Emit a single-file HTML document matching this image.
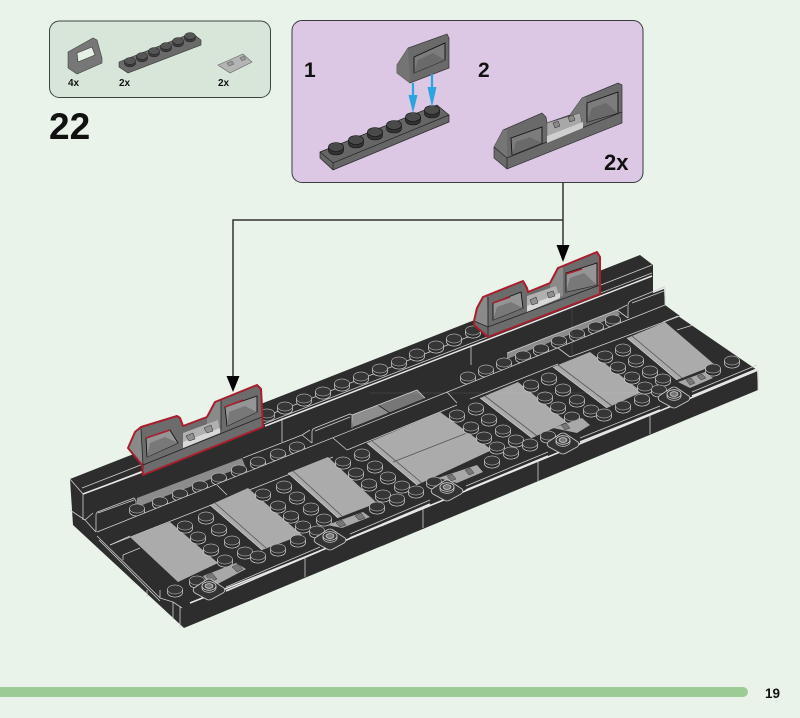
<!DOCTYPE html>
<html>
<head>
<meta charset="utf-8">
<title>Step 22</title>
<style>
html,body{margin:0;padding:0;background:#e9f3ea;}
svg{display:block;filter:blur(.35px);}
text{font-family:"Liberation Sans",sans-serif;font-weight:bold;fill:#111;}
.l{fill:none;stroke:#cfcfcf;stroke-width:.8;}
.w{fill:none;stroke:#e8e8e8;stroke-width:1.5;}
.k{fill:none;stroke:#222;stroke-width:.8;}
.p{fill:#ababab;}
.r{fill:none;stroke:#a81e2c;stroke-width:2;stroke-linejoin:round;}
</style>
</head>
<body>
<svg width="800" height="718" viewBox="0 0 800 718" xmlns="http://www.w3.org/2000/svg">
<defs>
<g id="s"><path d="M-7.500-1.500v3a7.500 4.600 0 0 0 15 0v-3z" fill="#2a2a2a" stroke="#c8c8c8" stroke-width=".8"/><ellipse cy="-1.500" rx="7.500" ry="4.600" fill="#363636" stroke="#bdbdbd" stroke-width=".6"/></g>
<g id="a"><path d="M-5.500-1v2.500a5.500 3.400 0 0 0 11 0v-2.500z" fill="#3a3a3a" stroke="#222" stroke-width=".5"/><ellipse cy="-1" rx="5.500" ry="3.400" fill="#555" stroke="#222" stroke-width=".5"/></g>
<g id="b"><path d="M-7.500-2v3.500a7.500 4.500 0 0 0 15 0v-3.500z" fill="#333" stroke="#111" stroke-width=".6"/><ellipse cy="-2" rx="7.500" ry="4.500" fill="#4a4a4a" stroke="#111" stroke-width=".6"/></g>
<g id="j">
<path d="M-15,1 L-3,-7 Q0,-9 3,-7 L15,1 Q17,4 14,6 L3,12 Q0,14 -3,12 L-14,6 Q-17,4 -15,1z" fill="#333" stroke="#cfcfcf" stroke-width=".8"/>
<path d="M-7,-1v2a7 4.300 0 0 0 14 0v-2z" fill="#2a2a2a" stroke="#c8c8c8" stroke-width=".8"/>
<ellipse cy="-1" rx="7" ry="4.300" fill="#3a3a3a" stroke="#ddd" stroke-width=".8"/>
<ellipse cy="-1" rx="4" ry="2.400" fill="#777" stroke="#ddd" stroke-width=".7"/>
</g>
</defs>

<rect width="800" height="718" fill="#e9f3ea"/>

<!-- parts panel -->
<rect x="49.500" y="21" width="221" height="76.500" rx="10" fill="#d8e6da" stroke="#3a463d" stroke-width="1"/>
<path d="M68,52 L93,38 L97,40 L102,58 L102,63 L77,74 L68,68z" fill="#777" stroke="#444" stroke-width=".6"/>
<path d="M77,53 L92,47 L95,55 L78,62z" fill="#e6efe6" stroke="#333" stroke-width=".6"/>
<path d="M119,62 L192,33 L201,40 L201,45 L128,73 L119,67z" fill="#6a6a6a" stroke="#333" stroke-width=".6"/>
<use href="#a" x="130" y="62"/><use href="#a" x="142" y="57"/><use href="#a" x="154" y="52"/><use href="#a" x="166" y="47"/><use href="#a" x="178" y="42"/><use href="#a" x="190" y="37"/>
<path d="M218,65 L243,54 L252,62 L230,73z" fill="#b4b4b4" stroke="#666" stroke-width=".6"/>
<path d="M227,63 L232,61 L234,64 L229,66z M240,58 L244,56 L246,59 L242,61z" fill="#999" stroke="#444" stroke-width=".4"/>
<text x="68" y="86" font-size="10">4x</text>
<text x="119" y="86" font-size="10">2x</text>
<text x="218" y="86" font-size="10">2x</text>
<text x="49" y="139" font-size="37">22</text>

<!-- purple panel -->
<rect x="292" y="20.500" width="351" height="162" rx="10" fill="#dcc8e4" stroke="#3a3a40" stroke-width="1"/>
<text x="304" y="77" font-size="21">1</text>
<text x="478" y="77" font-size="21">2</text>
<text x="604" y="170" font-size="22">2x</text>

<path d="M320,152 L437,105 L449,115 L449,122 L333,170 L320,158z" fill="#666" stroke="#222" stroke-width=".7"/>
<path d="M320,152 L333,163 L449,115 M333,163 V170" fill="none" stroke="#222" stroke-width=".7"/>
<use href="#b" x="336" y="149"/><use href="#b" x="356" y="142"/><use href="#b" x="375" y="134"/><use href="#b" x="394" y="127"/><use href="#b" x="413" y="119"/><use href="#b" x="432" y="112"/>

<path d="M397,65 L408,48 L447,34 L449,38 L449,68 L410,83 L397,73z" fill="#6a6a6a" stroke="#333" stroke-width=".7"/>
<path d="M397,65 L408,48 L410,83 L397,73z" fill="#747474"/>
<path d="M414,57 L445,43 L445,60 L414,73z" fill="#7c7c7c" stroke="#111" stroke-width=".9"/>
<path d="M418,60 L433,53 L445,60 L414,73z" fill="#6a6a6a"/>

<path d="M413,83 V97" stroke="#2aa5e0" stroke-width="2.200"/><path d="M408.500,95 L417.500,95 L413,113z" fill="#2aa5e0"/>
<path d="M432,74 V89" stroke="#2aa5e0" stroke-width="2.200"/><path d="M427.500,87 L436.500,87 L432,107z" fill="#2aa5e0"/>

<path d="M494,147 L503,130 L542,113 L546,117 L547,123 L570,115 L582,98 L618,83 L622,85 L622,123 L507,169 L494,158z" fill="#6a6a6a" stroke="#333" stroke-width=".7"/>
<path d="M494,147 L503,130 L507,130 L507,158z" fill="#767676"/>
<path d="M570,115 L582,98 L586,97 L586,125 L570,130z" fill="#767676"/>
<path d="M494,147 L507,158 L622,112 M507,158 V169" fill="none" stroke="#222" stroke-width=".7"/>
<path d="M547,123 L580,113 L583,128 L547,143z" fill="#a8a8a8" stroke="#555" stroke-width=".5"/>
<path d="M547,136 L583,122 L583,128 L547,143z" fill="#cfcfcf"/>
<path d="M553,123 L558,121 L560,126 L555,128z M568,117 L573,115 L575,120 L570,122z" fill="#8a8a8a" stroke="#222" stroke-width=".5"/>
<path d="M511,138 L542,127 L542,143 L512,155z" fill="#7c7c7c" stroke="#111" stroke-width=".9"/>
<path d="M587,103 L618,92 L618,113 L587,122z" fill="#7c7c7c" stroke="#111" stroke-width=".9"/>
<path d="M516,142 L530,137 L542,143 L512,155z" fill="#6a6a6a"/>
<path d="M592,108 L606,103 L618,113 L587,122z" fill="#6a6a6a"/>

<!-- connector -->
<path d="M563,183 V248 M563,220 H233 V379" fill="none" stroke="#333" stroke-width="1.500"/>
<path d="M556.500,245 H569.500 L563,262z" fill="#000"/>
<path d="M226.500,376 H239.500 L233,392z" fill="#000"/>

<!-- main body silhouette -->
<path d="M70,479 L640,255 L653,265 L653,293 L664,289 L665,307 L757,370 L758,390 L184,628 L73,525z" fill="#2d2d2d"/>

<!-- rear wall -->
<path d="M70,479 L83,494 L652,273 M82,488 L652,265" class="l"/>
<path d="M83,494 L142,472 M265,426 L652,276" class="w"/>
<path d="M83,494 V520 M70,510 L85,520 M282,418 V442 M471,345 V365" class="l"/>
<!-- grooves -->
<path d="M137,498 L242,458 L245,466 L137,507z" fill="#8c8c8c"/>
<path d="M352,415 L417,390 L425,398 L353,427z" fill="#8e8e8e"/>
<path d="M378,405 L417,390 L425,398 L390,412z" fill="#777"/>
<path d="M378,405 L390,413" class="k"/>
<path d="M507,353 L617,310 L620,315 L507,359z" fill="#8c8c8c"/>
<path d="M243,458 L302,435 M352,415 L417,390 L425,398 M507,353 L617,310" class="l"/>

<!-- curved pieces -->
<path d="M96,532 V515 Q96,512 100,511 L134,498 L136,501 V515 M85,520 L96,532 M85,520 L93,513 M98,513 L134,500" class="l"/>
<path d="M312,443 V432 Q312,429 315,428 L350,414 L352,415 V428 M302,435 L312,443 M302,435 L310,430 M315,431 L350,417" class="l"/>
<path d="M628,318 V305 Q628,302 632,300 L664,287 L665,289 V307 M617,310 L628,318 M617,310 L627,305 M632,303 L664,291" class="l"/>

<!-- upper wall studs -->
<use href="#s" x="267" y="415"/><use href="#s" x="285" y="408"/><use href="#s" x="304" y="400"/><use href="#s" x="323" y="393"/><use href="#s" x="342" y="385"/><use href="#s" x="361" y="378"/><use href="#s" x="380" y="370"/><use href="#s" x="399" y="363"/><use href="#s" x="417" y="355"/><use href="#s" x="436" y="347"/><use href="#s" x="454" y="340"/><use href="#s" x="473" y="332"/>

<!-- groove studs -->
<use href="#s" x="137" y="510"/><use href="#s" x="160" y="503"/><use href="#s" x="180" y="495"/><use href="#s" x="200" y="487"/><use href="#s" x="219" y="479"/><use href="#s" x="239" y="471"/><use href="#s" x="258" y="463"/><use href="#s" x="278" y="455"/><use href="#s" x="297" y="448"/>
<use href="#s" x="468" y="378"/><use href="#s" x="486" y="371"/><use href="#s" x="504" y="364"/><use href="#s" x="523" y="357"/><use href="#s" x="541" y="350"/><use href="#s" x="559" y="342"/><use href="#s" x="577" y="335"/><use href="#s" x="596" y="328"/><use href="#s" x="613" y="321"/>

<!-- cover bands -->
<path d="M97,532 L665,305 L680,316 L110,548z" fill="#2d2d2d"/>
<path d="M97,532 L665,305" class="l"/>
<path d="M110,545 L333,457 M347,450 L457,405 M470,399 L558,364 M570,357 L680,316" class="l"/>
<path d="M217,485 L227,495 M333,438 L347,450 M447,392 L457,403 M558,348 L570,357" class="l"/>

<!-- panels -->
<path class="p" d="M130,537 L170,522 L218,563 L178,582z"/>
<path class="p" d="M210,505 L248,488 L302,535 L262,550z"/>
<path class="p" d="M288,473 L328,457 L377,503 L338,518z"/>
<path class="p" d="M367,443 L440,412 L492,450 L417,485z"/>
<path class="p" d="M480,398 L518,382 L567,422 L532,438z"/>
<path class="p" d="M553,367 L590,352 L642,392 L607,408z"/>
<path class="p" d="M627,338 L665,322 L715,365 L677,380z"/>
<path d="M393,462 L467,433 M215,503 L266,548 M293,471 L342,516 M372,441 L422,483 M485,396 L537,436 M558,365 L612,406 M632,336 L682,378" fill="none" stroke="#555" stroke-width=".8"/>
<path d="M210,505 L262,550 M288,473 L338,518 M367,443 L417,485 M480,398 L532,438 M553,367 L607,408 M627,338 L677,380" fill="none" stroke="#ddd" stroke-width=".6"/>

<!-- field studs -->
<use href="#s" x="185" y="527"/><use href="#s" x="206" y="518"/><use href="#s" x="198" y="538"/><use href="#s" x="219" y="530"/><use href="#s" x="211" y="550"/><use href="#s" x="232" y="542"/><use href="#s" x="225" y="561"/><use href="#s" x="245" y="553"/>
<use href="#s" x="263" y="495"/><use href="#s" x="284" y="487"/><use href="#s" x="278" y="507"/><use href="#s" x="297" y="498"/><use href="#s" x="291" y="517"/><use href="#s" x="311" y="509"/><use href="#s" x="303" y="527"/><use href="#s" x="324" y="520"/><use href="#s" x="317" y="532"/>
<use href="#s" x="343" y="463"/><use href="#s" x="362" y="455"/><use href="#s" x="356" y="474"/><use href="#s" x="375" y="467"/><use href="#s" x="369" y="485"/><use href="#s" x="388" y="478"/><use href="#s" x="383" y="496"/><use href="#s" x="402" y="487"/><use href="#s" x="397" y="500"/><use href="#s" x="416" y="492"/><use href="#s" x="377" y="508"/>
<use href="#s" x="457" y="416"/><use href="#s" x="476" y="409"/><use href="#s" x="471" y="428"/><use href="#s" x="489" y="420"/><use href="#s" x="484" y="438"/><use href="#s" x="503" y="431"/><use href="#s" x="497" y="448"/><use href="#s" x="516" y="441"/><use href="#s" x="511" y="453"/><use href="#s" x="530" y="445"/><use href="#s" x="492" y="462"/>
<use href="#s" x="531" y="386"/><use href="#s" x="549" y="379"/><use href="#s" x="545" y="398"/><use href="#s" x="563" y="390"/><use href="#s" x="558" y="408"/><use href="#s" x="577" y="401"/><use href="#s" x="572" y="418"/><use href="#s" x="591" y="411"/><use href="#s" x="604" y="415"/><use href="#s" x="623" y="407"/><use href="#s" x="642" y="400"/>
<use href="#s" x="605" y="357"/><use href="#s" x="623" y="350"/><use href="#s" x="618" y="368"/><use href="#s" x="636" y="361"/><use href="#s" x="632" y="378"/><use href="#s" x="650" y="372"/><use href="#s" x="645" y="388"/><use href="#s" x="663" y="380"/><use href="#s" x="659" y="391"/>
<use href="#s" x="713" y="370"/><use href="#s" x="732" y="362"/>
<use href="#s" x="175" y="591"/><use href="#s" x="197" y="582"/><use href="#s" x="258" y="557"/><use href="#s" x="278" y="550"/><use href="#s" x="298" y="541"/><use href="#s" x="434" y="483"/><use href="#s" x="548" y="437"/>

<!-- grille tiles -->
<path d="M203,576 L236,563 L246,569 L212,587z" fill="#a8a8a8"/>
<path d="M327,525 L363,512 L370,517 L342,528z" fill="#a8a8a8"/>
<path d="M438,478 L477,465 L483,472 L457,483z" fill="#a8a8a8"/>
<path d="M553,428 L582,418 L590,425 L577,433z" fill="#a8a8a8"/>
<path d="M678,382 L705,372 L713,378 L690,388z" fill="#a8a8a8"/>
<path d="M206,576 L212,573 L217,579 L211,582z M232,567 L238,564 L243,569 L237,572z M336,523 L342,520 L346,525 L340,527z M355,516 L361,513 L365,518 L359,520z M447,476 L452,474 L456,479 L451,481z M465,470 L470,468 L474,473 L469,475z M561,425 L566,423 L570,428 L565,430z M686,380 L691,378 L695,383 L690,385z M697,376 L702,374 L706,378 L701,380z" fill="#777" stroke="#222" stroke-width=".4"/>

<!-- front rail -->
<path d="M226,587 L320,547 M350,534 L430,500 M466,486 L548,452 M580,438 L660,406 M692,392 L757,365" class="l"/>
<path d="M226,591 L320,551 M350,538 L430,504 M466,490 L548,456 M580,442 L660,410 M692,396 L757,369" class="w"/>
<path d="M190,603 L305,557 L423,508.500 L538,461 L650,415 L758,370" class="w" stroke-width="1"/>
<path d="M305,557 V577 M423,508 V528 M538,461 V481 M650,415 V434 M758,370 V390" class="l"/>

<!-- end lines -->
<path d="M97,536 L160,598 M99,540 L160,601 M160,598 L173,602 M173,602 V619 M180,606 V628 M173,602 L182,608 M147,590 V597 M160,590 V598 M110,545 L130,536 M123,555 L140,548 M123,555 V560" class="l"/>
<path d="M663,322 L678,316 M677,330 L693,325" class="l"/>
<path d="M370,393 H640 M572,300 V355" stroke="#fff" stroke-opacity=".12" stroke-width=".8" fill="none"/>

<!-- jumper plates -->
<use href="#j" x="209" y="587"/><use href="#j" x="330" y="537"/><use href="#j" x="447" y="488"/><use href="#j" x="563" y="441"/><use href="#j" x="674" y="395"/>

<!-- left assembled clip -->
<path d="M128,448 L135,432 L141,427 L177,416 L180,418 L183,426 L207,417 L215,402 L257,385 L261,389 L263,427 L143,475 L142,465z" fill="#6c6c6c"/>
<path d="M128,448 L135,432 L141,429 L143,465z" fill="#8a8a8a"/>
<path d="M207,417 L215,402 L221,400 L221,430 L207,436z" fill="#8a8a8a"/>
<path d="M183,433 L218,420 L220,433 L183,448z" fill="#b0b0b0"/>
<path d="M183,442 L220,428 L220,433 L183,448z" fill="#d8d8d8"/>
<path d="M186,436 L193,433 L195,439 L189,441z M204,428 L211,425 L213,431 L207,433z" fill="#909090" stroke="#222" stroke-width=".5"/>
<path d="M146,438 L170,430 L178,443 L147,457z" fill="#959595" stroke="#111" stroke-width=".9"/>
<path d="M150,443 L165,437 L178,443 L147,457z" fill="#787878"/>
<path d="M225,407 L257,396 L257,412 L227,426z" fill="#959595" stroke="#111" stroke-width=".9"/>
<path d="M229,412 L245,406 L257,412 L227,426z" fill="#787878"/>
<path d="M146,438 L170,430 M225,407 L243,400" stroke="#a81e2c" stroke-width="1.500" fill="none"/>
<path d="M141,429 L143,465 L262,417 M221,400 V430 M143,465 V475" class="k"/>
<path class="r" d="M128,448 L135,432 L141,427 L177,416 L180,418 L183,426 L207,417 L215,402 L257,385 L261,389 L263,427 L143,475 L142,465z"/>

<!-- right assembled clip -->
<path d="M474,321 L477,308 L483,297 L523,281 L527,288 L528,292 L550,283 L558,268 L597,252 L600,257 L600,294 L488,337 L474,325z" fill="#6c6c6c"/>
<path d="M474,321 L477,308 L483,297 L487,297 L488,327z" fill="#8a8a8a"/>
<path d="M550,283 L558,268 L563,267 L563,296 L550,300z" fill="#8a8a8a"/>
<path d="M527,296 L556,286 L560,298 L527,312z" fill="#b0b0b0"/>
<path d="M527,306 L560,293 L560,298 L527,312z" fill="#d8d8d8"/>
<path d="M530,300 L536,297 L538,303 L532,305z M547,293 L553,291 L555,296 L549,298z" fill="#909090" stroke="#222" stroke-width=".5"/>
<path d="M493,303 L521,292 L523,308 L493,320z" fill="#959595" stroke="#111" stroke-width=".9"/>
<path d="M497,307 L511,302 L523,308 L493,320z" fill="#787878"/>
<path d="M566,273 L597,263 L597,285 L566,292z" fill="#959595" stroke="#111" stroke-width=".9"/>
<path d="M570,278 L584,273 L597,285 L566,292z" fill="#787878"/>
<path d="M493,303 L510,297 M566,274 L582,269" stroke="#a81e2c" stroke-width="1.500" fill="none"/>
<path d="M474,321 L488,327 L600,285 M488,297 V337" class="k"/>
<path class="r" d="M474,321 L477,308 L483,297 L523,281 L527,288 L528,292 L550,283 L558,268 L597,252 L600,257 L600,294 L488,337 L474,325z"/>

<!-- footer -->
<path d="M0,687 H743 a5,5 0 0 1 0,10 H0z" fill="#9dcb95"/>
<text x="765" y="698" font-size="13.500">19</text>
</svg>
</body>
</html>
